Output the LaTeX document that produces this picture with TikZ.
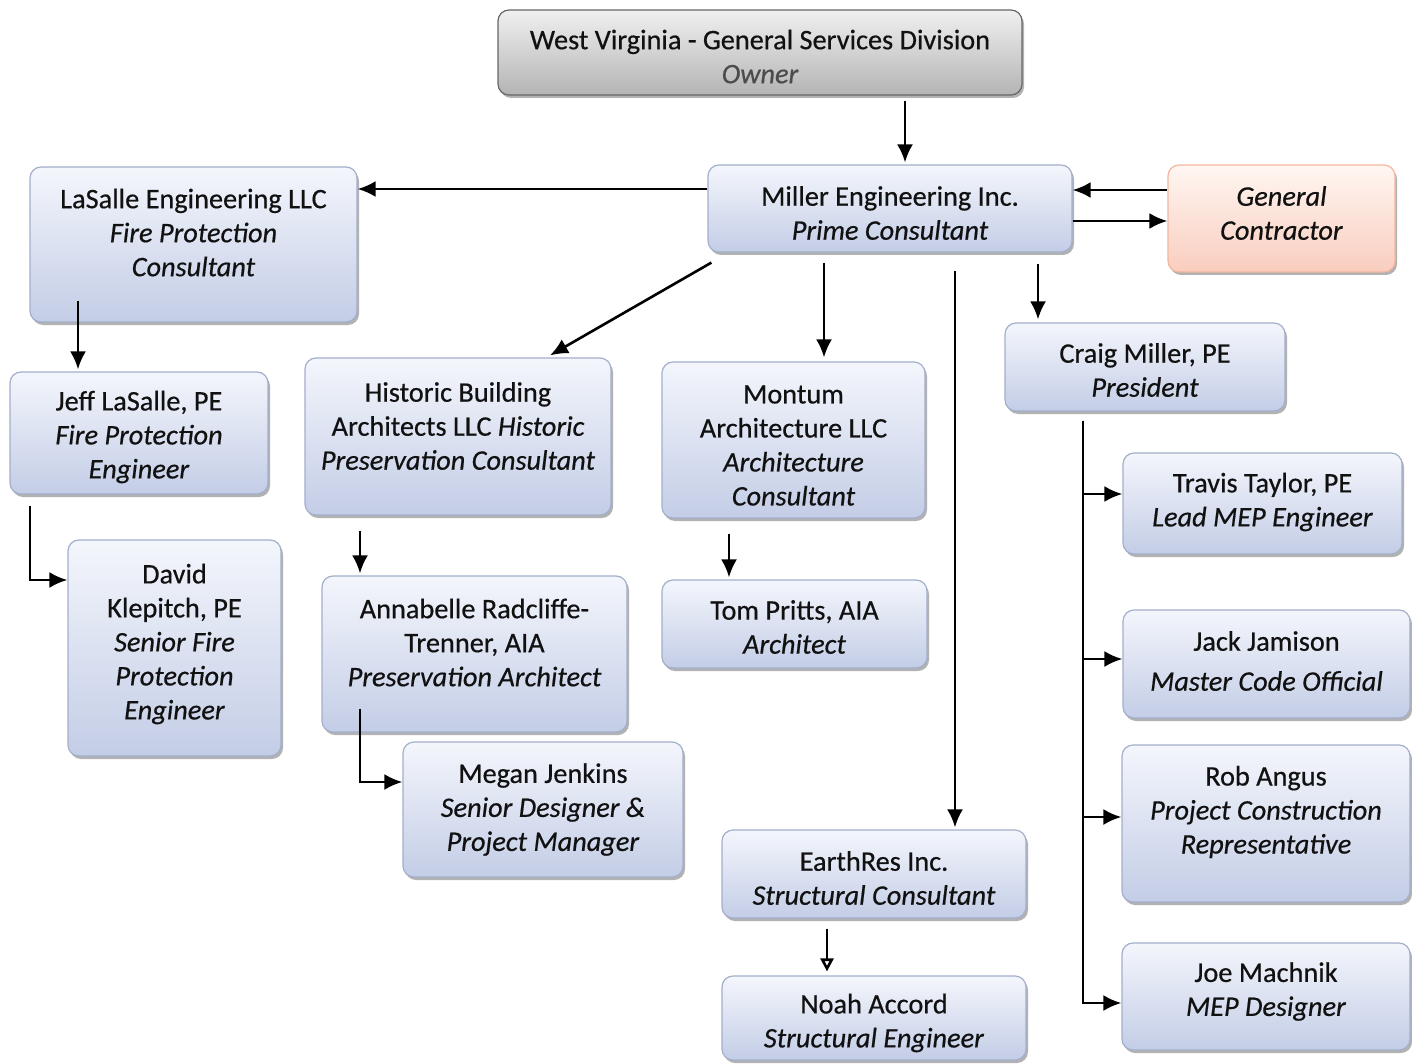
\documentclass[tikz,border=0pt]{standalone}
\usepackage{fontspec}
\setmainfont{Carlito}[FakeBold=0.5]
\usetikzlibrary{arrows.meta,shadows}
\definecolor{txt}{HTML}{111111}
\definecolor{btop}{HTML}{F4F6FC}
\definecolor{bbot}{HTML}{C3CDE6}
\definecolor{bdraw}{HTML}{A3AFCB}
\definecolor{gtop}{HTML}{F0F0F0}
\definecolor{gbot}{HTML}{B4B4B4}
\definecolor{otop}{HTML}{FFF6F2}
\definecolor{obot}{HTML}{F9CDBE}
\definecolor{odraw}{HTML}{F2B79E}
\tikzset{
  box/.style={draw=bdraw, line width=1.2pt, rounded corners=11pt, top color=btop, bottom color=bbot,
    drop shadow={shadow xshift=2pt, shadow yshift=-3pt, opacity=0.3, fill=black},
    inner sep=0pt},
  graybox/.style={box, draw=gray!80!black, top color=gtop, bottom color=gbot},
  orangebox/.style={box, draw=odraw, top color=otop, bottom color=obot},
  lbl/.style={align=center, text=txt, inner sep=0pt, font=\fontsize{28.3}{34}\selectfont},
  arr/.style={line width=2.6pt, draw=black, -{Latex[length=18pt,width=16pt]}},
  openarr/.style={line width=2.6pt, draw=black, -{Triangle[open,length=13pt,width=13pt]}},
}
\begin{document}
\begin{tikzpicture}[x=1pt,y=-1pt]
\useasboundingbox (0,0) rectangle (1412,1064);
\fill[white] (0,0) rectangle (1412,1064);

\node[graybox, minimum width=524pt, minimum height=85pt,
  label={[lbl, name=owner-t, yshift=-4pt]center:{West Virginia - General Services Division\\{\itshape\color{gray!60!black}Owner}}}] (owner) at (760,52.5) {};
\node[box, minimum width=364pt, minimum height=87pt,
  label={[lbl, name=miller-t, yshift=-4.5pt]center:{Miller Engineering Inc.\\\textit{Prime Consultant}}}] (miller) at (890,208.5) {};
\node[orangebox, minimum width=227pt, minimum height=107pt,
  label={[lbl, name=gc-t, yshift=5.5pt]center:{\textit{General}\\\textit{Contractor}}}] (gc) at (1281.5,218.5) {};
\node[box, minimum width=327pt, minimum height=155pt,
  label={[lbl, name=lasalle-t, yshift=12pt]center:{LaSalle Engineering LLC\\\textit{Fire Protection}\\\textit{Consultant}}}] (lasalle) at (193.5,244.5) {};
\node[box, minimum width=258pt, minimum height=122pt,
  label={[lbl, name=jeff-t, yshift=-4pt]center:{Jeff LaSalle, PE\\\textit{Fire Protection}\\\textit{Engineer}}}] (jeff) at (139,433) {};
\node[box, minimum width=306pt, minimum height=157pt,
  label={[lbl, name=hist-t, yshift=10.5pt]center:{Historic Building\\Architects LLC \textit{Historic}\\\textit{Preservation Consultant}}}] (hist) at (458,436.5) {};
\node[box, minimum width=263pt, minimum height=156pt,
  label={[lbl, name=montum-t, yshift=-5.5pt]center:{Montum\\Architecture LLC\\\textit{Architecture}\\\textit{Consultant}}}] (montum) at (793.5,440) {};
\node[box, minimum width=280pt, minimum height=88pt,
  label={[lbl, name=craig-t, yshift=-3pt]center:{Craig Miller, PE\\\textit{President}}}] (craig) at (1145,367) {};
\node[box, minimum width=279pt, minimum height=101pt,
  label={[lbl, name=travis-t, yshift=1.5pt]center:{Travis Taylor, PE\\\textit{Lead MEP Engineer}}}] (travis) at (1262.5,503.5) {};
\node[box, minimum width=287pt, minimum height=108pt,
  label={[lbl, name=jack-t, yshift=3pt]center:{Jack Jamison\\[6pt]\textit{Master Code Official}}}] (jack) at (1266.5,664) {};
\node[box, minimum width=288pt, minimum height=157pt,
  label={[lbl, name=rob-t, yshift=11.5pt]center:{Rob Angus\\\textit{Project Construction}\\\textit{Representative}}}] (rob) at (1266,823.5) {};
\node[box, minimum width=288pt, minimum height=107pt,
  label={[lbl, name=joe-t, yshift=5pt]center:{Joe Machnik\\\textit{MEP Designer}}}] (joe) at (1266,996.5) {};
\node[box, minimum width=213pt, minimum height=216pt,
  label={[lbl, name=david-t, yshift=4pt]center:{David\\Klepitch, PE\\\textit{Senior Fire}\\\textit{Protection}\\\textit{Engineer}}}] (david) at (174.5,648) {};
\node[box, minimum width=305pt, minimum height=156pt,
  label={[lbl, name=anna-t, yshift=11.5pt]center:{Annabelle Radcliffe-\\Trenner, AIA\\\textit{Preservation Architect}}}] (anna) at (474.5,654) {};
\node[box, minimum width=265pt, minimum height=88pt,
  label={[lbl, name=tom-t, yshift=-3pt]center:{Tom Pritts, AIA\\\textit{Architect}}}] (tom) at (794.5,624) {};
\node[box, minimum width=280pt, minimum height=135pt,
  label={[lbl, name=megan-t]center:{Megan Jenkins\\\textit{Senior Designer \&}\\\textit{Project Manager}}}] (megan) at (543,809.5) {};
\node[box, minimum width=304pt, minimum height=88pt,
  label={[lbl, name=earth-t, yshift=-4pt]center:{EarthRes Inc.\\\textit{Structural Consultant}}}] (earth) at (874,874) {};
\node[box, minimum width=304pt, minimum height=84pt,
  label={[lbl, name=noah-t, yshift=-5pt]center:{Noah Accord\\\textit{Structural Engineer}}}] (noah) at (874,1018) {};

% connectors
\draw[arr] ([xshift=145pt,yshift=-5pt]owner.south) -- ([xshift=15pt,yshift=2pt]miller.north);
\draw[arr] ([yshift=19.5pt]miller.west) -- ([yshift=55.5pt]lasalle.east);
\draw[arr] ([yshift=28.5pt]gc.west) -- ([yshift=18.5pt]miller.east);
\draw[arr] ([yshift=-12.5pt]miller.east) -- ([yshift=-2.5pt]gc.west);
\draw[arr] ([xshift=4pt,yshift=-10pt]miller.south west) -- ([xshift=92pt,yshift=2pt]hist.north);
\draw[arr] ([xshift=-66pt,yshift=-10pt]miller.south) -- ([xshift=30.5pt,yshift=4pt]montum.north);
\draw[arr] ([xshift=65pt,yshift=-18pt]miller.south) -- ([xshift=81pt,yshift=2pt]earth.north);
\draw[arr] ([xshift=148pt,yshift=-11pt]miller.south) -- ([xshift=-107pt,yshift=3pt]craig.north);
\draw[arr] ([xshift=-115.5pt,yshift=22pt]lasalle.south) -- ([xshift=-61pt,yshift=2pt]jeff.north);
\draw[arr] ([xshift=-109pt,yshift=-11pt]jeff.south) |- ([yshift=68pt]david.west);
\draw[arr] ([xshift=-98pt,yshift=-15pt]hist.south) -- ([xshift=-114.5pt,yshift=2pt]anna.north);
\draw[arr] ([xshift=-64.5pt,yshift=-15pt]montum.south) -- ([xshift=-65.5pt,yshift=2pt]tom.north);
\draw[arr] ([xshift=-114.5pt,yshift=24pt]anna.south) |- ([yshift=27.5pt]megan.west);
\draw[openarr] ([xshift=-47pt,yshift=-10pt]earth.south) -- ([xshift=-47pt,yshift=4pt]noah.north);
\draw[arr] ([xshift=-62pt,yshift=-9pt]craig.south) |- ([yshift=9.5pt]travis.west);
\draw[arr] ([xshift=-62pt,yshift=-9pt]craig.south) |- ([yshift=5pt]jack.west);
\draw[arr] ([xshift=-62pt,yshift=-9pt]craig.south) |- ([yshift=6.5pt]rob.west);
\draw[arr] ([xshift=-62pt,yshift=-9pt]craig.south) |- ([yshift=-6.5pt]joe.west);
\end{tikzpicture}
\end{document}
